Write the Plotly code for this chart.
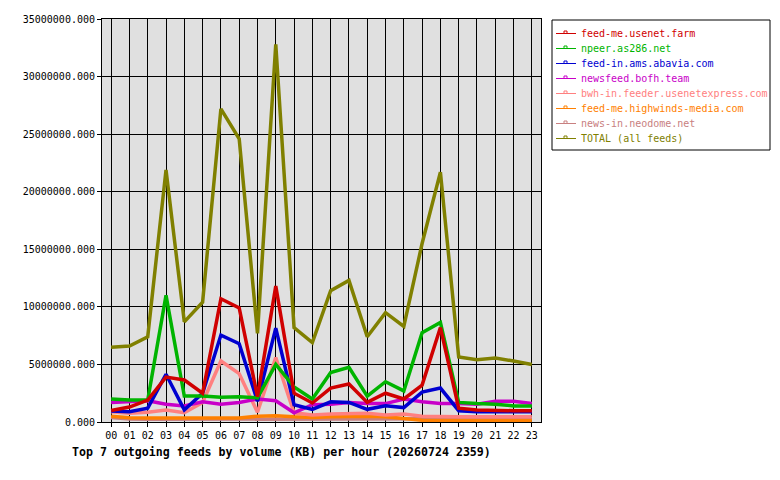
import plotly.graph_objects as go

# hours 00..23
hours = ["%02d" % h for h in range(24)]

# outgoing volume per hour (KB)
feed_me_usenet_farm = [1.0e6, 1.3e6, 1.9e6, 3.9e6, 3.65e6, 2.5e6, 10.7e6, 9.9e6, 2.2e6, 11.8e6,
                       2.5e6, 1.65e6, 2.95e6, 3.3e6, 1.7e6, 2.5e6, 2.0e6, 3.2e6, 8.2e6, 1.2e6,
                       1.05e6, 0.98e6, 0.98e6, 0.98e6]
npeer_as286_net = [2.0e6, 1.9e6, 1.9e6, 11.0e6, 2.25e6, 2.25e6, 2.15e6, 2.2e6, 2.1e6, 5.0e6,
                   3.05e6, 2.0e6, 4.3e6, 4.75e6, 2.25e6, 3.5e6, 2.7e6, 7.75e6, 8.65e6, 1.7e6,
                   1.6e6, 1.55e6, 1.4e6, 1.4e6]
feed_in_ams_abavia = [0.95e6, 0.9e6, 1.2e6, 4.15e6, 1.05e6, 2.5e6, 7.55e6, 6.8e6, 1.8e6, 8.15e6,
                      1.5e6, 1.1e6, 1.75e6, 1.7e6, 1.1e6, 1.4e6, 1.25e6, 2.6e6, 2.95e6, 0.98e6,
                      0.9e6, 0.9e6, 0.9e6, 0.9e6]
newsfeed_bofh_team = [1.7e6, 1.75e6, 1.85e6, 1.55e6, 1.4e6, 1.75e6, 1.55e6, 1.7e6, 2.0e6, 1.85e6,
                      0.8e6, 1.5e6, 1.55e6, 1.7e6, 1.6e6, 1.6e6, 2.0e6, 1.75e6, 1.6e6, 1.6e6,
                      1.55e6, 1.8e6, 1.8e6, 1.6e6]
bwh_in_usenetexpress = [0.9e6, 0.75e6, 0.85e6, 1.05e6, 0.8e6, 1.7e6, 5.3e6, 4.2e6, 0.85e6, 5.6e6,
                        0.8e6, 0.6e6, 0.7e6, 0.7e6, 0.75e6, 0.6e6, 0.7e6, 0.5e6, 0.45e6, 0.45e6,
                        0.45e6, 0.45e6, 0.45e6, 0.45e6]
feed_me_highwinds = [0.5e6, 0.37e6, 0.35e6, 0.35e6, 0.3e6, 0.3e6, 0.3e6, 0.35e6, 0.5e6, 0.55e6,
                     0.45e6, 0.4e6, 0.45e6, 0.5e6, 0.5e6, 0.45e6, 0.3e6, 0.15e6, 0.12e6, 0.12e6,
                     0.12e6, 0.12e6, 0.12e6, 0.12e6]
news_in_neodome = [0.4e6, 0.25e6, 0.23e6, 0.23e6, 0.23e6, 0.23e6, 0.23e6, 0.23e6, 0.25e6, 0.25e6,
                   0.25e6, 0.25e6, 0.25e6, 0.25e6, 0.3e6, 0.3e6, 0.3e6, 0.3e6, 0.3e6, 0.3e6,
                   0.3e6, 0.3e6, 0.3e6, 0.3e6]
total_all = [6.5e6, 6.6e6, 7.4e6, 21.9e6, 8.7e6, 10.4e6, 27.2e6, 24.6e6, 7.7e6, 32.8e6,
             8.2e6, 6.9e6, 11.4e6, 12.3e6, 7.4e6, 9.5e6, 8.3e6, 15.5e6, 21.7e6, 5.65e6,
             5.4e6, 5.55e6, 5.3e6, 5.0e6]

names = ["feed-me.usenet.farm", "npeer.as286.net", "feed-in.ams.abavia.com",
         "newsfeed.bofh.team", "bwh-in.feeder.usenetexpress.com",
         "feed-me.highwinds-media.com", "news-in.neodome.net", "TOTAL (all feeds)"]
series = [feed_me_usenet_farm, npeer_as286_net, feed_in_ams_abavia, newsfeed_bofh_team,
          bwh_in_usenetexpress, feed_me_highwinds, news_in_neodome, total_all]
colors = ["#d00000", "#00b400", "#0000d0", "#c800c8",
          "#ff8080", "#ff8000", "#c88080", "#808000"]

MONO = "DejaVu Sans Mono"

fig = go.Figure()
# draw in reverse so the first feeds sit on top, TOTAL underneath
for name, ys, col in reversed(list(zip(names, series, colors))):
    fig.add_trace(go.Scatter(x=list(range(24)), y=ys, name=name, mode="lines",
                             line=dict(color=col, width=3.5), showlegend=False))

# plot area in pixels: x 102..541, y 19..422
L, R, T, B = 102, 541, 19, 422
W, H = 780, 480
def px(x):
    return (x - L) / (R - L)
def py(y):
    return (B - y) / (B - T)

shapes = []
annotations = []
# hand-drawn legend box like the original
shapes.append(dict(type="rect", xref="paper", yref="paper",
                   x0=px(552), x1=px(770), y0=py(20), y1=py(150),
                   line=dict(color="black", width=1), fillcolor="white"))
for i, (name, col) in enumerate(zip(names, colors)):
    yc = 33.5 + 15 * i
    shapes.append(dict(type="line", xref="paper", yref="paper",
                       x0=px(556), x1=px(576), y0=py(yc), y1=py(yc),
                       line=dict(color=col, width=1)))
    shapes.append(dict(type="rect", xref="paper", yref="paper",
                       x0=px(564), x1=px(567), y0=py(yc), y1=py(yc - 2.5),
                       line=dict(color=col, width=1)))
    annotations.append(dict(text=name, xref="paper", yref="paper",
                            x=px(579), y=py(yc), xanchor="left", yanchor="middle",
                            showarrow=False, font=dict(family=MONO, size=10, color=col)))

annotations.append(dict(text="<b>Top 7 outgoing feeds by volume (KB) per hour (20260724 2359)</b>",
                        xref="paper", yref="paper", x=px(70), y=py(452),
                        xanchor="left", yanchor="middle", showarrow=False,
                        font=dict(family=MONO, size=11.6, color="black")))

fig.update_layout(
    width=W, height=H,
    margin=dict(l=L, r=W - R, t=T, b=H - B, pad=0),
    paper_bgcolor="white", plot_bgcolor="#e0e0e0",
    font=dict(family=MONO, size=10, color="black"),
    shapes=shapes, annotations=annotations,
    showlegend=False,
)
fig.update_xaxes(range=[-0.5, 23.5], tickvals=list(range(24)), ticktext=hours,
                 showgrid=True, gridcolor="black", gridwidth=1,
                 showline=True, linecolor="black", linewidth=1, mirror=True,
                 ticks="outside", ticklen=4, tickcolor="black", zeroline=False)
fig.update_yaxes(range=[0, 35e6], dtick=5e6, tickformat=".3f",
                 showgrid=True, gridcolor="black", gridwidth=1,
                 showline=True, linecolor="black", linewidth=1, mirror=True,
                 ticks="outside", ticklen=4, tickcolor="black", zeroline=False)

# the page body has an 8px default margin; drop it so the chart sits at 0,0
fig.write_html("out.html", config={"displayModeBar": False},
               post_script="document.body.style.margin='0';")
